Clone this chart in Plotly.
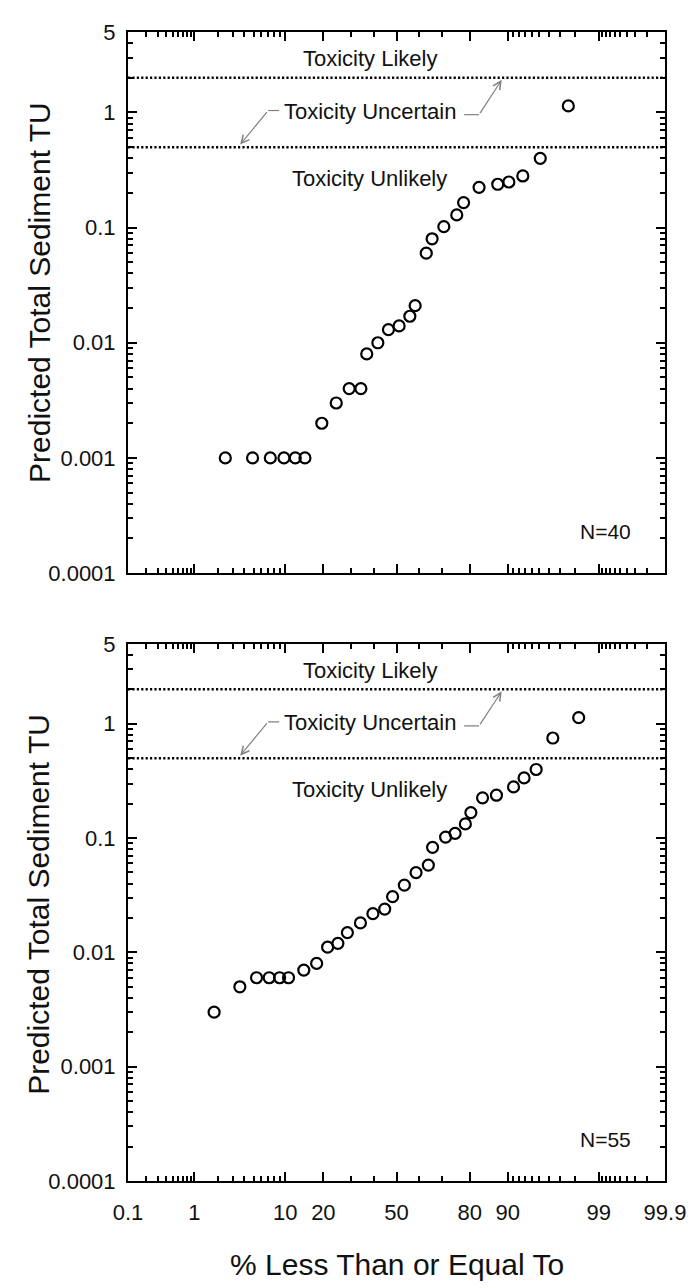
import math
from statistics import NormalDist
import plotly.graph_objects as go

# ---------------- data ----------------
# top panel (N=40): plotting position (%) and predicted total sediment TU
pct_top = [2.44, 4.88, 7.32, 9.76, 12.2, 14.6, 19.5, 24.4, 29.3, 34.1, 36.6, 41.5,
           46.3, 51.2, 56.1, 58.5, 63.4, 65.9, 70.7, 75.6, 78.0, 82.9, 87.8, 90.2,
           92.7, 95.1, 97.6]
tu_top = [0.001, 0.001, 0.001, 0.001, 0.001, 0.001, 0.002, 0.003, 0.004, 0.004, 0.008, 0.010,
          0.013, 0.014, 0.017, 0.021, 0.060, 0.080, 0.102, 0.129, 0.165, 0.224, 0.238, 0.249,
          0.281, 0.40, 1.14]

# bottom panel (N=55)
pct_bot = [1.79, 3.57, 5.36, 7.14, 8.93, 10.7, 14.3, 17.9, 21.4, 25.0, 28.6, 33.9, 39.3,
           44.6, 48.2, 53.6, 58.9, 64.3, 66.1, 71.4, 75.0, 78.6, 80.4, 83.9, 87.5, 91.1,
           92.9, 94.6, 96.4, 98.2]
tu_bot = [0.0030, 0.0050, 0.0060, 0.0060, 0.0060, 0.0060, 0.0070, 0.0080, 0.0111, 0.0120,
          0.0149, 0.0181, 0.0218, 0.0239, 0.0307, 0.0387, 0.0499, 0.058, 0.083, 0.102, 0.110,
          0.133, 0.167, 0.225, 0.237, 0.280, 0.336, 0.398, 0.75, 1.13]

panel_n = ["N=40", "N=55"]

# thresholds
tu_likely = 2.0
tu_unlikely = 0.5

# axis ticks
x_major = [0.1, 1, 10, 20, 50, 80, 90, 99, 99.9]
x_major_text = ["0.1", "1", "10", "20", "50", "80", "90", "99", "99.9"]
x_minor = ([0.2, 0.3, 0.4, 0.5, 0.6, 0.7, 0.8, 0.9] + [2, 3, 4, 5, 6, 7, 8, 9] +
           [30, 40, 60, 70] + [91, 92, 93, 94, 95, 96, 97, 98] +
           [99.1, 99.2, 99.3, 99.4, 99.5, 99.6, 99.7, 99.8])
y_major = [0.0001, 0.001, 0.01, 0.1, 1, 5]
y_major_text = ["0.0001", "0.001", "0.01", "0.1", "1", "5"]
y_minor = [m * 10 ** e for e in range(-4, 0) for m in range(2, 10)] + [2, 3, 4]

# ---------------- helpers ----------------
nd = NormalDist()


def probit(p):
    return nd.inv_cdf(p / 100.0)


def lg(v):
    return math.log10(v)


FONT = "Liberation Sans, Arial, sans-serif"
INK = "#111111"
GREY = "#808080"

# page body has an 8px margin, so the figure is 8px smaller than the window
W, H = 690, 1280
ML, MR, MT, MB = 120, 28, 20, 107
top_dom = [0.5291, 1.0]
bot_dom = [0.0, 0.4675]

xr = [probit(0.1) - 1e-6, probit(99.9) + 1e-6]
yr = [-4, lg(5)]

fig = go.Figure()

panels = [
    ("x", "y", pct_top, tu_top, panel_n[0]),
    ("x2", "y2", pct_bot, tu_bot, panel_n[1]),
]

for xa, ya, pc, tu, ntext in panels:
    fig.add_trace(go.Scatter(
        x=[probit(p) for p in pc], y=tu, xaxis=xa, yaxis=ya, mode="markers",
        marker=dict(symbol="circle-open", size=11, color="black",
                    line=dict(width=2.2, color="black")),
        showlegend=False, hoverinfo="skip"))

    # threshold dotted lines
    for thr in (tu_likely, tu_unlikely):
        fig.add_shape(type="line", xref=xa, yref=ya, x0=xr[0], x1=xr[1], y0=thr, y1=thr,
                      line=dict(color="black", width=2.5, dash="2.2px,2.2px"))

    # zone labels
    for txt, yv in (("Toxicity Likely", 2.94), ("Toxicity Uncertain", 1.03),
                    ("Toxicity Unlikely", 0.267)):
        fig.add_annotation(x=probit(38), y=lg(yv), xref=xa, yref=ya, text=txt,
                           showarrow=False, xanchor="center", yanchor="middle",
                           font=dict(family=FONT, size=22, color=INK))

    # connector stubs and arrows
    fig.add_shape(type="line", xref=xa, yref=ya, x0=probit(8.85), x1=probit(6.98),
                  y0=1.04, y1=1.04, line=dict(color=GREY, width=1.2))
    fig.add_annotation(x=probit(3.6), y=lg(0.526), ax=probit(6.98), ay=lg(1.04),
                       xref=xa, yref=ya, axref=xa, ayref=ya, text="", showarrow=True,
                       arrowhead=5, arrowsize=1.3, arrowwidth=1.2, arrowcolor=GREY)
    fig.add_shape(type="line", xref=xa, yref=ya, x0=probit(78.2), x1=probit(82.9),
                  y0=0.957, y1=0.957, line=dict(color=GREY, width=1.2))
    fig.add_annotation(x=probit(88.7), y=lg(1.92), ax=probit(82.9), ay=lg(0.957),
                       xref=xa, yref=ya, axref=xa, ayref=ya, text="", showarrow=True,
                       arrowhead=5, arrowsize=1.3, arrowwidth=1.2, arrowcolor=GREY)

    # N label
    fig.add_annotation(x=probit(99.67), y=lg(0.000231), xref=xa, yref=ya, text=ntext,
                       showarrow=False, xanchor="right", yanchor="middle",
                       font=dict(family=FONT, size=21, color=INK))

# axis titles (as annotations for precise placement)
for yc in (0.7736, 0.2411):
    fig.add_annotation(x=-0.166, y=yc, xref="paper", yref="paper",
                       text="Predicted Total Sediment TU", textangle=-90,
                       showarrow=False, xanchor="center", yanchor="middle",
                       font=dict(family=FONT, size=30, color=INK))
fig.add_annotation(x=0.5, y=-0.0729, xref="paper", yref="paper",
                   text="% Less Than or Equal To", showarrow=False,
                   xanchor="center", yanchor="middle",
                   font=dict(family=FONT, size=30, color=INK))

xcommon = dict(
    range=xr, showgrid=False, zeroline=False, showline=True, linewidth=2,
    linecolor="black", mirror="allticks", ticks="inside", ticklen=9, tickwidth=1.5,
    tickcolor="black", tickvals=[probit(v) for v in x_major], ticktext=x_major_text,
    tickfont=dict(family=FONT, size=22, color=INK), ticklabelstandoff=11,
    minor=dict(tickvals=[probit(v) for v in x_minor], ticks="inside", ticklen=5,
               tickwidth=1.5, tickcolor="black", showgrid=False),
)
ycommon = dict(
    type="log", range=yr, showgrid=False, zeroline=False, showline=True, linewidth=2,
    linecolor="black", mirror="allticks", ticks="inside", ticklen=9, tickwidth=1.5,
    tickcolor="black", tickvals=y_major, ticktext=y_major_text,
    tickfont=dict(family=FONT, size=22, color=INK), ticklabelstandoff=6,
    minor=dict(tickvals=y_minor, ticks="inside", ticklen=5, tickwidth=1.5,
               tickcolor="black", showgrid=False),
)

fig.update_layout(
    width=W, height=H,
    margin=dict(l=ML, r=MR, t=MT, b=MB),
    paper_bgcolor="white", plot_bgcolor="white",
    xaxis=dict(xcommon, anchor="y", showticklabels=False),
    yaxis=dict(ycommon, anchor="x", domain=top_dom),
    xaxis2=dict(xcommon, anchor="y2"),
    yaxis2=dict(ycommon, anchor="x2", domain=bot_dom),
    showlegend=False,
)

fig.write_html("out.html")
